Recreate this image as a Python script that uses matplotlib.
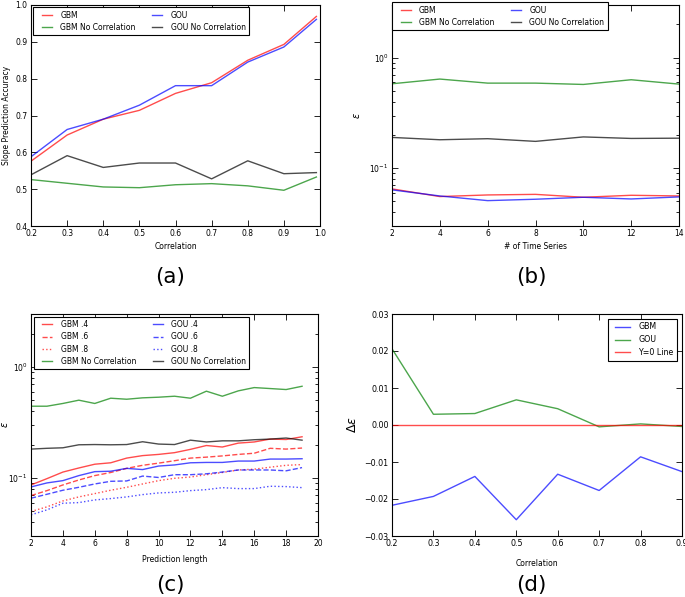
import numpy as np
import matplotlib.pyplot as plt
from matplotlib.lines import Line2D
from matplotlib.legend_handler import HandlerLine2D

# (a) slope prediction accuracy vs correlation
corr_a = [0.2, 0.3, 0.4, 0.5, 0.6, 0.7, 0.8, 0.9, 0.99]
acc_gbm = [0.576, 0.647, 0.690, 0.714, 0.760, 0.789, 0.850, 0.893, 0.969]
acc_gou = [0.588, 0.662, 0.690, 0.728, 0.781, 0.781, 0.845, 0.886, 0.961]
acc_gbm_nc = [0.526, 0.516, 0.506, 0.504, 0.512, 0.515, 0.509, 0.497, 0.533]
acc_gou_nc = [0.539, 0.591, 0.559, 0.571, 0.571, 0.528, 0.577, 0.542, 0.545]

# (b) error vs number of time series
n_series = [2, 4, 6, 8, 10, 12, 14]
eps_gbm_b = [0.0650, 0.0554, 0.0573, 0.0580, 0.0546, 0.0569, 0.0561]
eps_gou_b = [0.0637, 0.0561, 0.0509, 0.0524, 0.0546, 0.0527, 0.0550]
eps_gbm_nc_b = [0.581, 0.641, 0.589, 0.589, 0.573, 0.632, 0.577]
eps_gou_nc_b = [0.190, 0.181, 0.185, 0.175, 0.192, 0.186, 0.187]

# (c) error vs prediction length
pred_len = list(range(2, 20))
eps_gbm4 = [0.0865, 0.0986, 0.113, 0.123, 0.133, 0.137, 0.151, 0.159, 0.163,
            0.169, 0.181, 0.196, 0.190, 0.206, 0.211, 0.224, 0.222, 0.235]
eps_gbm6 = [0.0694, 0.0769, 0.0865, 0.0959, 0.105, 0.112, 0.122, 0.130, 0.136,
            0.143, 0.151, 0.154, 0.158, 0.163, 0.167, 0.185, 0.182, 0.186]
eps_gbm8 = [0.0499, 0.0549, 0.0621, 0.0675, 0.0723, 0.0775, 0.0824, 0.0883, 0.0946,
            0.0993, 0.102, 0.107, 0.112, 0.118, 0.120, 0.125, 0.130, 0.132]
eps_gou4 = [0.0830, 0.0902, 0.0946, 0.105, 0.114, 0.115, 0.122, 0.119, 0.128,
            0.131, 0.137, 0.138, 0.138, 0.142, 0.142, 0.148, 0.148, 0.149]
eps_gou6 = [0.0657, 0.0713, 0.0775, 0.0824, 0.0883, 0.0933, 0.0940, 0.104, 0.101,
            0.107, 0.107, 0.109, 0.113, 0.118, 0.118, 0.118, 0.116, 0.124]
eps_gou8 = [0.0465, 0.0516, 0.0592, 0.0600, 0.0634, 0.0652, 0.0675, 0.0708, 0.0733,
            0.0743, 0.0769, 0.0785, 0.0818, 0.0802, 0.0802, 0.0842, 0.0836, 0.0818]
eps_gbm_nc_c = [0.443, 0.443, 0.469, 0.502, 0.469, 0.523, 0.512, 0.527, 0.534,
                0.545, 0.523, 0.605, 0.545, 0.609, 0.652, 0.639, 0.626, 0.670]
eps_gou_nc_c = [0.182, 0.185, 0.187, 0.199, 0.200, 0.199, 0.200, 0.212, 0.202,
                0.200, 0.219, 0.211, 0.216, 0.216, 0.221, 0.224, 0.229, 0.219]

# (d) difference in error vs correlation
corr_d = [0.2, 0.3, 0.4, 0.5, 0.6, 0.7, 0.8, 0.9]
d_gbm = [-0.0217, -0.0193, -0.0139, -0.0256, -0.0133, -0.0177, -0.0086, -0.0126]
d_gou = [0.0206, 0.0029, 0.0031, 0.0068, 0.0044, -0.0005, 0.0003, -0.0004]

FS = 5.5
plt.rcParams.update({
    'font.family': 'DejaVu Sans',
    'font.size': FS,
    'axes.linewidth': 0.8,
    'mathtext.fontset': 'dejavusans',
})

W, H = 685, 597
fig = plt.figure(figsize=(W / 100, H / 100), dpi=100)


def box(l, t, r, b):
    return [l / W, 1 - b / H, (r - l) / W, (b - t) / H]


def style(ax, size=FS):
    ax.tick_params(which='both', direction='in', top=True, right=True,
                   labelsize=size, width=0.6)
    ax.tick_params(which='major', length=4)
    ax.tick_params(which='minor', length=2)
    ax.tick_params(axis='x', which='both', pad=2)
    ax.tick_params(axis='y', which='both', pad=2.5)


def leg(ax, xpad=0.7, **kw):
    opts = dict(fontsize=FS, fancybox=False, framealpha=1, edgecolor='k',
                handlelength=2.0, handletextpad=1.1, labelspacing=0.42,
                borderpad=0.45, columnspacing=1.45,
                handler_map={Line2D: HandlerLine2D(xpad=xpad)})
    opts.update(kw)
    l = ax.legend(**opts)
    l.get_frame().set_linewidth(0.8)
    return l


lw = 1.0
al = 0.7

# (a)
ax = fig.add_axes(box(31, 5, 320, 226))
ax.plot(corr_a, acc_gbm, color='r', lw=lw, alpha=al, label='GBM')
ax.plot(corr_a, acc_gbm_nc, color='g', lw=lw, alpha=al, label='GBM No Correlation')
ax.plot(corr_a, acc_gou, color='b', lw=lw, alpha=al, label='GOU')
ax.plot(corr_a, acc_gou_nc, color='k', lw=lw, alpha=al, label='GOU No Correlation')
ax.set_xlim(0.2, 1.0)
ax.set_ylim(0.4, 1.0)
ax.set_xlabel('Correlation', fontsize=FS, labelpad=3)
ax.set_ylabel('Slope Prediction Accuracy', fontsize=FS, labelpad=3)
style(ax)
leg(ax, loc='upper left', ncol=2, borderaxespad=0.3)

# (b)
ax = fig.add_axes(box(392, 5, 679, 226))
ax.plot(n_series, eps_gbm_b, color='r', lw=lw, alpha=al, label='GBM')
ax.plot(n_series, eps_gbm_nc_b, color='g', lw=lw, alpha=al, label='GBM No Correlation')
ax.plot(n_series, eps_gou_b, color='b', lw=lw, alpha=al, label='GOU')
ax.plot(n_series, eps_gou_nc_b, color='k', lw=lw, alpha=al, label='GOU No Correlation')
ax.set_yscale('log')
ax.set_xlim(2, 14)
ax.set_ylim(0.03, 3.0)
ax.set_xticks([2, 4, 6, 8, 10, 12, 14])
ax.set_xlabel('# of Time Series', fontsize=FS, labelpad=3)
ax.set_ylabel(r'$\epsilon$', fontsize=7, labelpad=5)
style(ax)
leg(ax, loc='upper left', ncol=2, bbox_to_anchor=(0, 1.012), borderaxespad=0)

# (c)
ax = fig.add_axes(box(31, 314, 318, 536))
ax.plot(pred_len, eps_gbm4, color='r', lw=lw, alpha=al, label='GBM .4')
ax.plot(pred_len, eps_gbm6, color='r', lw=lw, alpha=al, ls='--', label='GBM .6')
ax.plot(pred_len, eps_gbm8, color='r', lw=lw, alpha=al, ls=':', label='GBM .8')
ax.plot(pred_len, eps_gbm_nc_c, color='g', lw=lw, alpha=al, label='GBM No Correlation')
ax.plot(pred_len, eps_gou4, color='b', lw=lw, alpha=al, label='GOU .4')
ax.plot(pred_len, eps_gou6, color='b', lw=lw, alpha=al, ls='--', label='GOU .6')
ax.plot(pred_len, eps_gou8, color='b', lw=lw, alpha=al, ls=':', label='GOU .8')
ax.plot(pred_len, eps_gou_nc_c, color='k', lw=lw, alpha=al, label='GOU No Correlation')
ax.set_yscale('log')
ax.set_xlim(2, 20)
ax.set_ylim(0.03, 3.0)
ax.set_xticks(range(2, 21, 2))
ax.set_xlabel('Prediction length', fontsize=FS, labelpad=5)
ax.set_ylabel(r'$\epsilon$', fontsize=7)
ax.yaxis.set_label_coords(-0.072, 0.5)
style(ax)
leg(ax, loc='upper left', ncol=2, borderaxespad=0.35)

# (d)
ax = fig.add_axes(box(392, 314, 682, 536))
ax.plot(corr_d, d_gbm, color='b', lw=lw, alpha=al, label='GBM')
ax.plot(corr_d, d_gou, color='g', lw=lw, alpha=al, label='GOU')
ax.axhline(0, color='r', lw=lw, alpha=al, label='Y=0 Line')
ax.set_xlim(0.2, 0.9)
ax.set_ylim(-0.03, 0.03)
ax.set_xlabel('Correlation', fontsize=FS, labelpad=8)
ax.set_ylabel(r'$\Delta\epsilon$', fontsize=9, labelpad=4)
style(ax, size=5.7)
leg(ax, xpad=0.5, loc='upper right', handlelength=2.3, fontsize=5.7,
    labelspacing=0.5, borderaxespad=0.6)

for lab, x, y in [('(a)', 170, 277), ('(b)', 531, 277),
                  ('(c)', 170, 585), ('(d)', 531, 585)]:
    fig.text(x / W, 1 - y / H, lab, fontsize=15.5, ha='center', va='center')

fig.savefig('out.png', dpi=100, facecolor='white')
